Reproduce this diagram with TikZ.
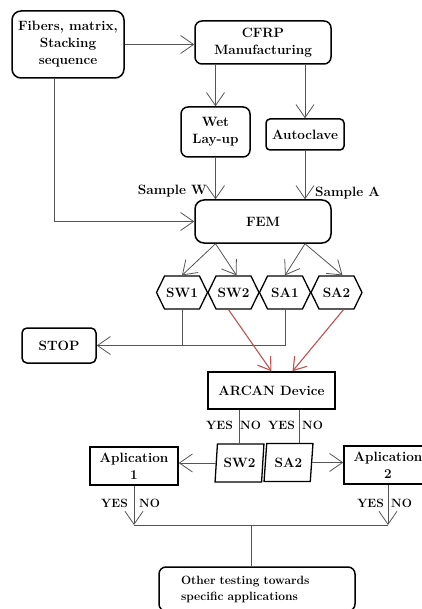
\documentclass[tikz,border=0pt]{standalone}
\usepackage{fontspec}
\usetikzlibrary{arrows.meta,shapes.geometric,shapes.symbols}
\definecolor{linegray}{RGB}{85,85,85}
\definecolor{arrowred}{RGB}{192,80,77}

\begin{document}
\begin{tikzpicture}[x=1pt,y=-1pt,
	font=\fontsize{13.5}{17}\selectfont\bfseries,
	box/.style={draw=black, line width=1.5pt, align=center, inner sep=2pt},
	rbox/.style={box, rounded corners=7pt},
	hexa/.style={draw=black, line width=1.3pt, signal, signal to=west and east,
		signal pointer angle=128, minimum width=51pt, minimum height=33pt, inner sep=0pt},
	para/.style={draw=black, line width=1.3pt, trapezium, trapezium left angle=80,
		trapezium right angle=100, trapezium stretches=true,
		minimum width=49pt, minimum height=38pt, inner sep=0pt},
	flow/.style={draw=linegray, line width=0.8pt},
	arr/.style={flow, -{Straight Barb[length=13pt,width=18pt]}},
	redarr/.style={draw=arrowred, line width=1.1pt, -{Straight Barb[length=12pt,width=16pt]}},
	lab/.style={inner sep=0pt},
	yn/.style={inner sep=0pt, font=\fontsize{12}{14}\selectfont\bfseries}]
	\useasboundingbox (0,0) rectangle (422,609);

	% Manufacturing part
	\node[rbox, rounded corners=9pt, minimum width=112pt, minimum height=67pt] (input) at (68,44.5) {Fibers, matrix,\\Stacking\\sequence};
	\node[rbox, minimum width=136pt, minimum height=43pt] (cfrp) at (263,42.5) {CFRP\\Manufacturing};
	\node[rbox, minimum width=69pt, minimum height=50pt] (wet) at (215.5,132) {Wet\\Lay-up};
	\node[rbox, rounded corners=4pt, minimum width=78pt, minimum height=31pt] (autoclave) at (305,134.5) {Autoclave};
	\node[rbox, rounded corners=9pt, minimum width=136pt, minimum height=43pt] (fem) at (263,221.5) {FEM};

	\draw[arr] (input.east) -- (input.east -| cfrp.west);
	\draw[arr] (cfrp.south -| wet.north) -- (wet.north);
	\draw[arr] (cfrp.south -| autoclave.north) -- (autoclave.north);
	\draw[arr] (wet.south) -- (wet.south |- fem.north);
	\draw[arr] (autoclave.south) -- (autoclave.south |- fem.north);
	\draw[arr] ([xshift=-14pt]input.south) |- (fem.west);
	\node[lab, anchor=east] (samplew) at (207,191) {Sample W};
	\node[lab, anchor=west] (samplea) at (315,193) {Sample A};

	% Samples
	\node[hexa] (sw1) at (182,292.5) {SW1};
	\node[hexa] (sw2) at (233.5,292.5) {SW2};
	\node[hexa] (sa1) at (285,292.5) {SA1};
	\node[hexa] (sa2) at (336.5,292.5) {SA2};
	\draw[arr] (fem.south -| wet.south) -- (sw1.north);
	\draw[arr] (fem.south -| wet.south) -- ([xshift=3pt]sw2.north);
	\draw[arr] (fem.south -| autoclave.south) -- (sa1.north);
	\draw[arr] (fem.south -| autoclave.south) -- ([xshift=6pt]sa2.north);

	\node[rbox, rounded corners=5pt, minimum width=74pt, minimum height=35pt] (stop) at (59,345.5) {STOP};
	\draw[arr] (sa1.south) |- (stop.east);
	\draw[flow] (sw1.south) -- (sw1.south |- stop.east);

	% Device test
	\node[box, minimum width=127pt, minimum height=37pt] (arcan) at (271.5,390.5) {ARCAN Device};
	\draw[redarr] ([xshift=-5pt]sw2.south) -- (arcan.north);
	\draw[redarr] ([xshift=7pt]sa2.south) -- ([xshift=21pt]arcan.north);

	\node[para] (sw2b) at (239.5,463) {SW2};
	\node[para] (sa2b) at (288.5,462.5) {SA2};
	\draw[flow] (arcan.south -| sw2b.north) -- (sw2b.north);
	\draw[flow] ([xshift=11pt]sa2b.north |- arcan.south) -- ([xshift=11pt]sa2b.north);
	\node[yn, anchor=east] (yes1) at (233,425) {YES};
	\node[yn, anchor=west] (no1) at (240,425) {NO};
	\node[yn, anchor=east] (yes2) at (295,425) {YES};
	\node[yn, anchor=west] (no2) at (302,425) {NO};

	% Applications
	\node[box, minimum width=88pt, minimum height=38pt] (apl1) at (134,466) {Aplication\\1};
	\node[box, minimum width=88pt, minimum height=38pt] (apl2) at (388,465) {Aplication\\2};
	\draw[arr] (sw2b.west) -- (sw2b.west -| apl1.east);
	\draw[arr] (sa2b.east) -- (sa2b.east -| apl2.west);

	\coordinate (merge) at (251,525);
	\draw[arr] (apl1.south) -- (apl1.south |- merge);
	\draw[arr] (apl2.south) -- (apl2.south |- merge);
	\draw[flow] (apl1.south |- merge) -- (apl2.south |- merge);
	\node[yn, anchor=east] (yes3) at (128,503) {YES};
	\node[yn, anchor=west] (no3) at (139,503) {NO};
	\node[yn, anchor=east] (yes4) at (384,503) {YES};
	\node[yn, anchor=west] (no4) at (391,503) {NO};

	\node[rbox, rounded corners=7pt, text width=152pt, inner xsep=22pt, minimum height=44pt, align=left,
		font=\fontsize{12}{16}\selectfont\bfseries] (other) at (257,589) {Other testing towards\\specific applications};
	\draw[flow] (merge) -- (merge |- other.north);
\end{tikzpicture}
\end{document}
